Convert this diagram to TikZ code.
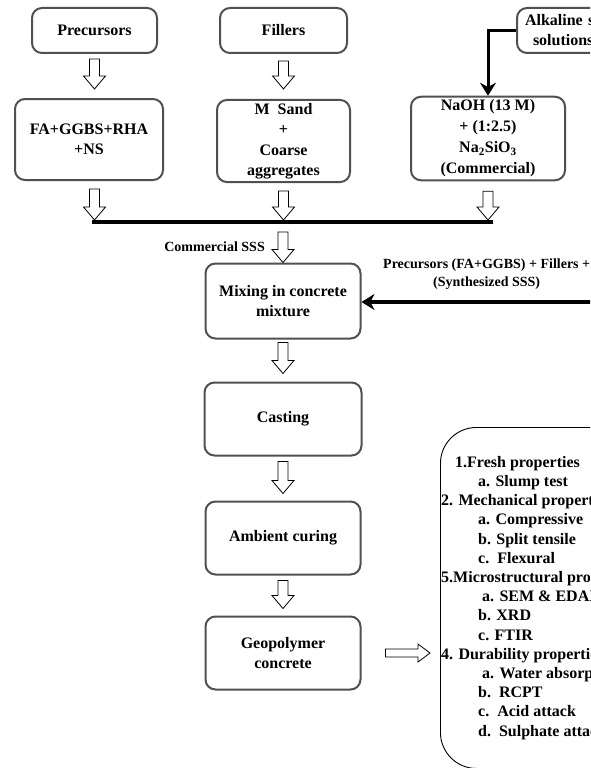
\documentclass[tikz,border=0pt]{standalone}
\usepackage{fontspec}
\setmainfont{Liberation Serif}
\usepackage{tikz}
\usetikzlibrary{arrows.meta,positioning,calc}
\definecolor{boxgray}{HTML}{505050}
\tikzset{
  stepbox/.style={
    rectangle, rounded corners=10pt, draw=boxgray, line width=2pt,
    minimum width=#1, minimum height=45pt,
    font=\fontsize{16}{20}\selectfont\bfseries, align=center,
    inner sep=3pt
  },
  stepbox/.default=125pt,
  resultbox/.style={rectangle, rounded corners=36pt, draw=black, line width=0.9pt,
    minimum width=280pt, minimum height=341pt, inner sep=0pt},
  listtext/.style={font=\fontsize{16}{19.2}\selectfont\bfseries, align=left,
    inner sep=0pt},
  flowlabel/.style={font=\fontsize{14}{18}\selectfont\bfseries, align=center,
    inner sep=2pt},
  hollow/.style={draw=black, line width=0.8pt, fill=white},
  hollowdown/.style={to path={let \p1=(\tikztostart), \p2=(\tikztotarget) in
      (\x1-5pt,\y1) -- (\x1+5pt,\y1) -- (\x1+5pt,\y2+13pt) -- (\x1+11pt,\y2+13pt)
      -- (\x1,\y2) -- (\x1-11pt,\y2+13pt) -- (\x1-5pt,\y2+13pt) -- cycle}},
  hollowright/.style={to path={let \p1=(\tikztostart), \p2=(\tikztotarget) in
      (\x1,\y1+4pt) -- (\x2-12pt,\y1+4pt) -- (\x2-12pt,\y1+9pt) -- (\x2,\y1)
      -- (\x2-12pt,\y1-9pt) -- (\x2-12pt,\y1-4pt) -- (\x1,\y1-4pt) -- cycle}},
  feedarrow/.style={-{Stealth[length=13pt,width=16pt]}, line width=#1},
  feedarrow/.default=3pt,
}

\begin{document}
\begin{tikzpicture}[x=1pt, y=-1pt]
    \useasboundingbox (0,0) rectangle (590,768);
    \clip (0,0) rectangle (590,768);
    % raw materials
    \node[stepbox] (prec) at (94.5,30.5) {Precursors};
    \node[stepbox=127pt] (fill) at (283.5,30.5) {Fillers};
    \node[stepbox=140pt, text width=124pt, align=left] (alk) at (587,30.5) {Alkaline s\\\hspace*{8pt}solutions};
    \node[stepbox=148pt, minimum height=81pt] (fa) at (89,139.5) {FA+GGBS+RHA\\+NS};
    \node[stepbox=133pt, minimum height=82pt, font=\fontsize{16}{20.5}\selectfont\bfseries] (sand) at (283.5,141) {M\ \ Sand\\+\\Coarse\\aggregates};
    \node[stepbox=154pt, minimum height=81pt, font=\fontsize{16}{21}\selectfont\bfseries] (naoh) at (488,138.5) {NaOH (13 M)\\+ (1:2.5)\\Na\textsubscript{2}SiO\textsubscript{3}\\(Commercial)};
    % process chain
    \node[stepbox=155pt, minimum height=75pt] (mix) at (283,301) {Mixing in concrete\\mixture};
    \node[stepbox=157pt, minimum height=73pt, below=42pt of mix] (cast) {Casting};
    \node[stepbox=155pt, minimum height=73pt, below=44pt of cast] (amb) {Ambient curing};
    \node[stepbox=155pt, minimum height=73pt, below=40pt of amb] (geo) {Geopolymer\\concrete};
    % tests
    \node[resultbox, anchor=north west] (tests) at (440,427) {};
    \node[listtext, anchor=north west] (testlist) at (441,456) {%
      \hspace*{14pt}1.Fresh properties\\
      \hspace*{37pt}a. Slump test\\
      2. Mechanical properties\\
      \hspace*{37pt}a. Compressive\\
      \hspace*{37pt}b. Split tensile\\
      \hspace*{37pt}c.\ \ Flexural\\
      5.Microstructural properties\\
      \hspace*{41pt}a. SEM \& EDAX\\
      \hspace*{37pt}b. XRD\\
      \hspace*{37pt}c. FTIR\\
      4. Durability properties\\
      \hspace*{41pt}a. Water absorption\\
      \hspace*{37pt}b.\ \ RCPT\\
      \hspace*{37pt}c.\ \ Acid attack\\
      \hspace*{37pt}d.\ \ Sulphate attack};
    % collecting bar
    \coordinate (barL) at (92,222);
    \coordinate (barR) at (493,222);
    \draw[hollow, hollowdown] ([yshift=-5pt]prec.south) to ([yshift=9pt]prec.south |- fa.north);
    \draw[hollow, hollowdown] ([yshift=-8pt]prec.south |- fa.south) to ([yshift=2pt]prec.south |- barL);
    \draw[hollow, hollowdown] ([yshift=-7pt]fill.south) to ([yshift=10pt]sand.north);
    \draw[hollow, hollowdown] ([yshift=-8pt]sand.south) to ([yshift=2pt]sand.south |- barL);
    \draw[hollow, hollowdown] ([yshift=-10pt]naoh.south) to ([yshift=2pt]naoh.south |- barL);
    \draw[line width=4pt] (barL) -- (barR);
    \draw[feedarrow] (alk.west) -| (naoh.north);
    % into the mix
    \draw[hollow, hollowdown] ([yshift=-10pt]mix.north |- barL) to (mix.north);
    \node[flowlabel, anchor=east] (commlabel) at (267,247) {Commercial SSS};
    \coordinate (synth) at (600,302);
    \draw[feedarrow=4pt] (synth) -- (mix.east |- synth);
    \node[flowlabel, anchor=south west] (synthlabel) at (381,292) {Precursors (FA+GGBS) + Fillers +\\(Synthesized SSS)};
    % down the chain
    \draw[hollow, hollowdown] ([yshift=-3pt]mix.south) to ([yshift=8pt]cast.north);
    \draw[hollow, hollowdown] ([yshift=-5pt]cast.south) to ([yshift=7pt]amb.north);
    \draw[hollow, hollowdown] ([yshift=-5pt]amb.south) to ([yshift=7pt]geo.north);
    \draw[hollow, hollowright] ([xshift=24pt]geo.east) to ([xshift=-10pt]geo.east -| tests.west);
\end{tikzpicture}
\end{document}
